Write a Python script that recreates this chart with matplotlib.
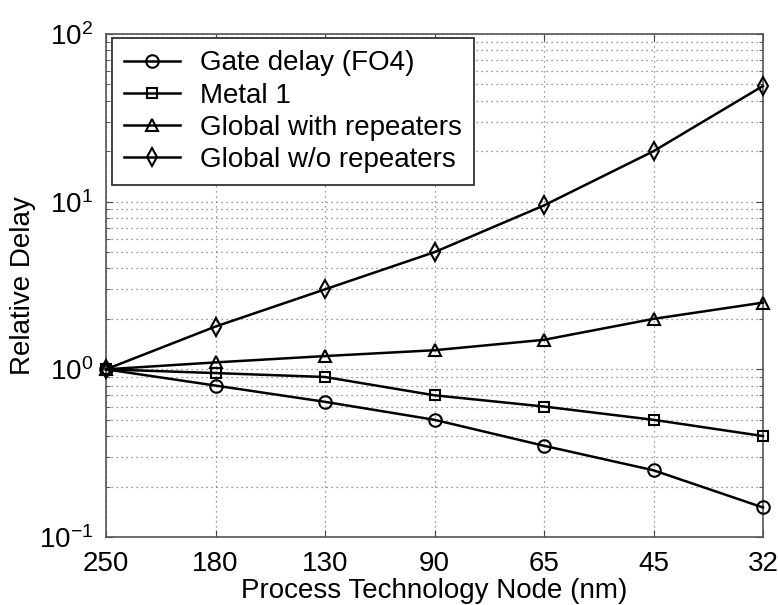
import matplotlib
matplotlib.use("Agg")
import matplotlib.pyplot as plt
from matplotlib.ticker import LogLocator, NullFormatter

plt.rcParams['font.family'] = ['Liberation Sans', 'DejaVu Sans']
plt.rcParams['mathtext.fontset'] = 'custom'
plt.rcParams['mathtext.rm'] = 'Liberation Sans'

nodes = ["250", "180", "130", "90", "65", "45", "32"]
gate_delay = [1.0, 0.8, 0.64, 0.5, 0.35, 0.25, 0.15]
metal1 = [1.0, 0.95, 0.9, 0.7, 0.6, 0.5, 0.4]
global_rep = [1.0, 1.1, 1.2, 1.3, 1.5, 2.0, 2.5]
global_norep = [1.0, 1.8, 3.0, 5.0, 9.5, 20.0, 49.0]

fig = plt.figure(figsize=(7.78, 6.05), dpi=100)
L, R, T, B = 106, 763, 34, 537
ax = fig.add_axes([L/778, 1-B/605, (R-L)/778, (B-T)/605])
x = list(range(len(nodes)))
kw = dict(color='black', lw=1.8, markerfacecolor='none', markeredgecolor='black', markeredgewidth=1.5, markersize=9, clip_on=False, zorder=3)
ax.plot(x, gate_delay, marker='o', label='Gate delay (FO4)', **kw)
ax.plot(x, metal1, marker='s', label='Metal 1', **dict(kw, markersize=7.5))
ax.plot(x, global_rep, marker='^', label='Global with repeaters', **kw)
ax.plot(x, global_norep, marker='d', label='Global w/o repeaters', **kw)

ax.set_yscale('log')
ax.set_ylim(0.1, 100)
ax.set_xlim(0, len(nodes)-1)
ax.set_xticks(x)
ax.set_xticklabels(nodes)
ax.yaxis.set_major_locator(LogLocator(base=10, numticks=10))
ax.yaxis.set_minor_locator(LogLocator(base=10, subs=range(2, 10), numticks=10))
ax.yaxis.set_minor_formatter(NullFormatter())
ax.grid(True, which='major', axis='both', linestyle=(0, (1, 3)), color='#777777', lw=0.9)
ax.grid(True, which='minor', axis='y', linestyle=(0, (1, 3)), color='#777777', lw=0.9)
ax.tick_params(axis='both', which='both', direction='in', labelsize=20, top=True, right=True, color='#444444')
ax.tick_params(axis='both', which='major', length=5)
ax.tick_params(axis='x', which='major', pad=10)
ax.tick_params(axis='y', which='major', pad=9)
ax.tick_params(axis='y', which='minor', length=3)
for s in ax.spines.values():
    s.set_color('#555555')
    s.set_linewidth(1.2)
ax.set_xlabel('Process Technology Node (nm)', fontsize=20, labelpad=1)
ax.set_ylabel('Relative Delay', fontsize=20, labelpad=2)
leg = ax.legend(loc='upper left', bbox_to_anchor=((112-L)/(R-L), 1-(38-T)/(B-T)),
                borderaxespad=0, fontsize=20, frameon=True, fancybox=False,
                edgecolor='#333333', handlelength=2.0,
                labelspacing=0.22, borderpad=0.45, handletextpad=0.7)
leg.get_frame().set_linewidth(1.3)
leg.get_frame().set_alpha(1)
fig.savefig('out.png', dpi=100)
